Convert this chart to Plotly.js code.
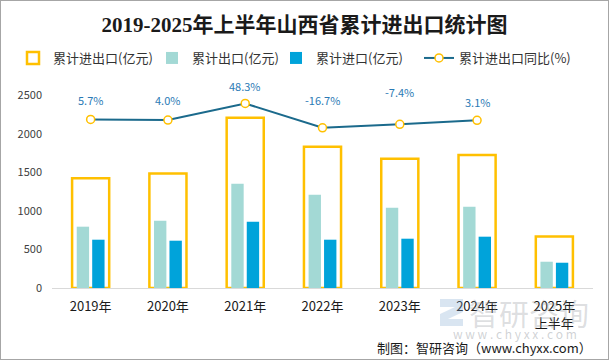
<!DOCTYPE html>
<html><head><meta charset="utf-8">
<script src="https://cdn.plot.ly/plotly-3.0.1.min.js"></script>
<style>
html,body{margin:0;padding:0;background:#fff}
#wrap{width:609px;height:360px;box-sizing:border-box;border:1px solid #A6A6A6;overflow:hidden}
#chart{width:607px;height:358px}
</style>
</head><body><div id="wrap"><div id="chart"></div></div>
<script>
// ---- data ----
const categories = ['2019年','2020年','2021年','2022年','2023年','2024年','2025年<br>上半年'];
const totalTrade = [1425, 1487, 2211, 1835, 1678, 1726, 668];   // 累计进出口(亿元)
const exportsVal = [796, 874, 1354, 1211, 1042, 1055, 341];     // 累计出口(亿元)
const importsVal = [627, 614, 861, 627, 640, 666, 328];         // 累计进口(亿元)
const growthPct  = [5.7, 4.0, 48.3, -16.7, -7.4, 3.1];          // 累计进出口同比(%)
const growthCats = categories.slice(0, 6);
const yTicks = [0, 500, 1000, 1500, 2000, 2500];
const seriesNames = ['累计进出口(亿元)', '累计出口(亿元)', '累计进口(亿元)', '累计进出口同比(%)'];

// ---- style ----
const labelShift = [19, 20, 17, 28, 32, 18];
const legendX = [12, 151, 275, 418];
const FONT = 'Noto Sans CJK SC, Noto Sans, sans-serif';
const W = 607, H = 358, L = 51, R = 15, T = 79, B = 71;
const pw = W - L - R, ph = H - T - B;
const px = X => (X - L) / pw;
const py = Y => (H - B - Y) / ph;
const legendIds = ['legend', 'legend2', 'legend3', 'legend4'];

const traces = [
  {type:'bar', name: seriesNames[0], x: categories, y: totalTrade, width: 0.48,
   marker:{color:'rgba(0,0,0,0)', line:{color:'#FFC000', width:2.5}}, hoverinfo:'skip'},
  {type:'bar', name: seriesNames[1], x: categories, y: exportsVal, width: 0.16, offset: -0.18,
   marker:{color:'#A3D9D5'}, hoverinfo:'skip'},
  {type:'bar', name: seriesNames[2], x: categories, y: importsVal, width: 0.16, offset: 0.02,
   marker:{color:'#00A3DA'}, hoverinfo:'skip'},
  {type:'scatter', name: seriesNames[3], x: growthCats, y: growthPct, yaxis:'y2', mode:'lines+markers',
   line:{color:'#1B6A8C', width:2},
   marker:{symbol:'circle', size:8, color:'#FFFFFF', line:{color:'#FFC000', width:1.5}}, hoverinfo:'skip'}
];
traces.forEach((t, i) => { t.legend = legendIds[i]; });

const annotations = growthCats.map((c, i) => ({
  x: c, y: growthPct[i], xref:'x', yref:'y2', text: growthPct[i].toFixed(1) + '%',
  showarrow:false, yshift: labelShift[i], yanchor:'middle', xanchor:'center',
  font:{family: FONT, size:11, color:'#2A7AB5'}
}));
annotations.push(
  {xref:'paper', yref:'paper', x: px(528), y: py(311), xanchor:'center', yanchor:'middle',
   text:'智研咨询', showarrow:false,
   font:{family: FONT, size:30, color:'rgba(150,155,160,0.33)'}},
  {xref:'paper', yref:'paper', x: px(514), y: py(332), xanchor:'center', yanchor:'middle',
   text:'w w w . c h y x x . c o m', showarrow:false,
   font:{family: FONT, size:12, color:'rgba(150,155,160,0.45)'}},
  {xref:'paper', yref:'paper', x: px(593), y: py(346), xanchor:'right', yanchor:'middle',
   text:'制图：智研咨询（www.chyxx.com）', showarrow:false,
   font:{family: FONT, size:13, color:'#1a1a1a'}}
);

const layout = {
  width: W, height: H,
  margin:{l:L, r:R, t:T, b:B, pad:0},
  paper_bgcolor:'#FFFFFF', plot_bgcolor:'#FFFFFF',
  font:{family: FONT, color:'#333'},
  title:{text:'<b>2019-2025年上半年山西省累计进出口统计图</b>', x:0.5, xanchor:'center',
         xref:'container', yref:'container', y: 1 - 24 / H, yanchor:'middle',
         font:{family:'Liberation Serif, Noto Sans CJK SC, serif', size:21, color:'#1a1a1a'}},
  barmode:'overlay',
  showlegend:true,
  xaxis:{type:'category', showline:true, linecolor:'#D9D9D9', linewidth:1, ticks:'',
         showgrid:false, zeroline:false, tickfont:{family: FONT, size:13, color:'#1a1a1a'},
         ticklabelstandoff: 6, fixedrange:true},
  yaxis:{range:[0, 2700], tickvals: yTicks, ticktext: yTicks.map(String), showgrid:false, zeroline:false,
         showline:false, ticks:'', tickfont:{family: FONT, size:11, color:'#404040'},
         ticklabelstandoff: 9, fixedrange:true},
  yaxis2:{overlaying:'y', range:[-444.7, 110.9], visible:false, fixedrange:true},
  annotations: annotations,
  shapes:[
    {type:'path', xref:'paper', yref:'paper', layer:'above',
     path:`M ${px(439)} ${py(298)} L ${px(462)} ${py(298)} L ${px(462)} ${py(311)} L ${px(447)} ${py(318)} L ${px(462)} ${py(318)} L ${px(462)} ${py(325)} L ${px(439)} ${py(325)} L ${px(439)} ${py(313)} L ${px(454)} ${py(306)} L ${px(439)} ${py(306)} Z`,
     fillcolor:'rgba(130,170,210,0.3)', line:{width:0}}
  ]
};
legendIds.forEach((id, i) => {
  layout[id] = {orientation:'h', xref:'container', yref:'container', x: legendX[i] / W, xanchor:'left',
                y: 1 - 57 / H, yanchor:'middle', font:{family: FONT, size:13, color:'#333'},
                bgcolor:'rgba(0,0,0,0)', borderwidth:0};
});

Plotly.newPlot('chart', traces, layout, {displayModeBar:false, staticPlot:true});
</script>
</body></html>
